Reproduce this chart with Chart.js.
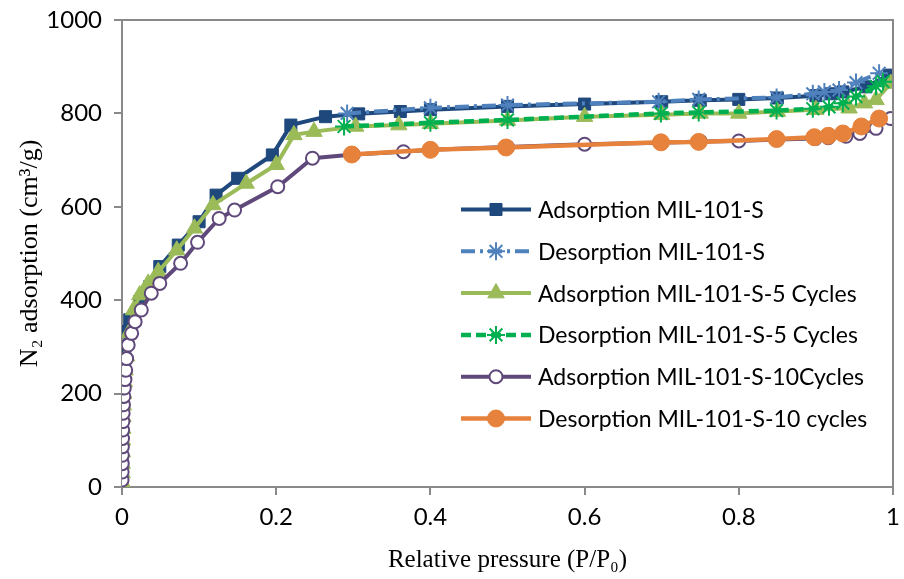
<!DOCTYPE html>
<html lang="en">
<head>
    <meta charset="UTF-8">
    <title>N2 adsorption isotherms MIL-101-S</title>
    <style>
        body { margin: 0; background: #fff; }
        canvas { display: block; }
    </style>
</head>
<body>
<canvas id="chartCanvas" width="904" height="579"></canvas>

<script src="https://cdn.jsdelivr.net/npm/chart.js"></script>
<script>
    // values (P/P0, cm3/g)
    const adsS_p = [0.0001, 0.0002, 0.0004, 0.0006, 0.0009, 0.0013, 0.0018, 0.0025, 0.0035, 0.005, 0.01, 0.023, 0.036, 0.049, 0.073, 0.1, 0.122, 0.15, 0.195, 0.219, 0.264, 0.307, 0.361, 0.4, 0.5, 0.6, 0.7, 0.75, 0.8, 0.85, 0.9, 0.92, 0.935, 0.965, 0.995];
    const adsS_v = [20, 60, 100, 140, 175, 210, 240, 270, 300, 333, 358, 397, 429, 472, 518, 568, 625, 661, 711, 775, 793, 799, 804, 808, 815, 820, 825, 828, 830, 833, 838, 842, 846, 857, 882];

    const desS_p = [0.292, 0.4, 0.5, 0.696, 0.748, 0.849, 0.896, 0.911, 0.93, 0.952, 0.982];
    const desS_v = [800, 812, 818, 825, 830, 834, 842, 846, 850, 866, 886];

    const ads5_p = [0.0001, 0.0002, 0.0003, 0.0005, 0.0007, 0.001, 0.0013, 0.0017, 0.0022, 0.003, 0.004, 0.006, 0.009, 0.015, 0.023, 0.034, 0.047, 0.071, 0.094, 0.118, 0.161, 0.2, 0.223, 0.249, 0.303, 0.359, 0.4, 0.5, 0.6, 0.7, 0.75, 0.8, 0.85, 0.9, 0.943, 0.963, 0.978, 0.997];
    const ads5_v = [10, 30, 50, 75, 100, 125, 150, 175, 200, 225, 250, 280, 330, 379, 411, 436, 461, 507, 554, 604, 650, 690, 754, 761, 772, 775, 778, 785, 793, 797, 800, 800, 804, 808, 811, 822, 829, 864];

    const des5_p = [0.288, 0.4, 0.5, 0.699, 0.748, 0.849, 0.896, 0.917, 0.935, 0.952, 0.978, 0.987];
    const des5_v = [772, 780, 786, 800, 802, 806, 810, 814, 822, 836, 858, 868];

    const ads10_p = [0.0001, 0.0002, 0.0003, 0.0004, 0.0005, 0.0007, 0.0009, 0.0012, 0.0015, 0.0019, 0.0024, 0.003, 0.0038, 0.0048, 0.006, 0.008, 0.0125, 0.017, 0.025, 0.038, 0.049, 0.076, 0.098, 0.126, 0.146, 0.202, 0.247, 0.3, 0.365, 0.4, 0.5, 0.6, 0.7, 0.75, 0.8, 0.85, 0.899, 0.916, 0.939, 0.957, 0.978, 0.997];
    const ads10_v = [15, 32, 50, 68, 86, 104, 122, 140, 158, 176, 194, 212, 230, 250, 275, 304, 329, 354, 379, 415, 436, 479, 524, 575, 593, 643, 704, 712, 718, 722, 728, 734, 737, 740, 741, 744, 746, 748, 751, 757, 768, 789];

    const des10_p = [0.298, 0.4, 0.498, 0.699, 0.748, 0.849, 0.898, 0.916, 0.935, 0.959, 0.982];
    const des10_v = [712, 722, 727, 738, 739, 745, 749, 752, 757, 772, 789];

    const seriesNames = [
        'Adsorption MIL-101-S',
        'Desorption MIL-101-S',
        'Adsorption MIL-101-S-5 Cycles',
        'Desorption MIL-101-S-5 Cycles',
        'Adsorption MIL-101-S-10Cycles',
        'Desorption MIL-101-S-10 cycles'
    ];
    const xTicks = [0, 0.2, 0.4, 0.6, 0.8, 1];
    const yTicks = [0, 200, 400, 600, 800, 1000];

    const axisGrey = '#898989';

    function toPoints(px, vy) {
        return px.map((p, i) => ({x: p, y: vy[i]}));
    }

    const styles = [
        {color: '#1F497D', fill: '#1F497D', style: 'rect', radius: 8.5, width: 4, dash: [], pw: 1},
        {color: '#4F81BD', fill: '#4F81BD', style: 'star', radius: 9, width: 4, dash: [14, 5, 3, 5], pw: 2},
        {color: '#9BBB59', fill: '#9BBB59', style: 'triangle', radius: 9.5, width: 4, dash: [], pw: 1},
        {color: '#00B050', fill: '#00B050', style: 'star', radius: 9, width: 4.5, dash: [10, 5], pw: 2},
        {color: '#5F497A', fill: '#FFFFFF', style: 'circle', radius: 6.5, width: 4, dash: [], pw: 2},
        {color: '#E6823B', fill: '#E6823B', style: 'circle', radius: 8.5, width: 4.5, dash: [], pw: 1}
    ];
    const seriesData = [
        toPoints(adsS_p, adsS_v),
        toPoints(desS_p, desS_v),
        toPoints(ads5_p, ads5_v),
        toPoints(des5_p, des5_v),
        toPoints(ads10_p, ads10_v),
        toPoints(des10_p, des10_v)
    ];

    const datasets = seriesNames.map((name, i) => ({
        label: name,
        data: seriesData[i],
        borderColor: styles[i].color,
        backgroundColor: styles[i].fill,
        borderWidth: styles[i].width,
        borderDash: styles[i].dash,
        pointStyle: styles[i].style,
        pointRadius: styles[i].radius,
        pointBorderWidth: styles[i].pw,
        pointBorderColor: styles[i].color,
        pointBackgroundColor: styles[i].fill,
        tension: 0,
        order: seriesNames.length - 1 - i   // later series on top, like the original
    }));

    // draw one legend marker by hand
    function drawMarker(ctx, s, x, y) {
        const r = s.radius;
        ctx.save();
        ctx.setLineDash([]);
        ctx.lineWidth = s.pw;
        ctx.strokeStyle = s.color;
        ctx.fillStyle = s.fill;
        ctx.beginPath();
        if (s.style === 'rect') {
            const h = r * Math.SQRT1_2;
            ctx.rect(x - h, y - h, 2 * h, 2 * h);
            ctx.fill();
            ctx.stroke();
        } else if (s.style === 'triangle') {
            for (let k = 0; k < 3; k++) {
                const a = k * 2 * Math.PI / 3;
                const px = x + Math.sin(a) * r, py = y - Math.cos(a) * r;
                if (k === 0) ctx.moveTo(px, py); else ctx.lineTo(px, py);
            }
            ctx.closePath();
            ctx.fill();
            ctx.stroke();
        } else if (s.style === 'circle') {
            ctx.arc(x, y, r, 0, Math.PI * 2);
            ctx.fill();
            ctx.stroke();
        } else if (s.style === 'star') {
            for (let k = 0; k < 4; k++) {
                const a = k * Math.PI / 4;
                ctx.moveTo(x - Math.cos(a) * r, y - Math.sin(a) * r);
                ctx.lineTo(x + Math.cos(a) * r, y + Math.sin(a) * r);
            }
            ctx.stroke();
        }
        ctx.restore();
    }

    const frameAndLegend = {
        id: 'frameAndLegend',
        afterDraw(chart) {
            const ctx = chart.ctx;
            const a = chart.chartArea;
            // top and right edges of the plot frame
            ctx.save();
            ctx.strokeStyle = axisGrey;
            ctx.lineWidth = 2;
            ctx.beginPath();
            ctx.moveTo(a.left, a.top);
            ctx.lineTo(a.right, a.top);
            ctx.lineTo(a.right, a.bottom);
            ctx.stroke();
            ctx.restore();

            // legend inside the plot, lower right
            const x0 = a.left + 339;
            const lineLen = 70;
            const y0 = a.top + 189.5;
            const step = 41.8;
            ctx.save();
            ctx.font = '23px Lato';
            ctx.textBaseline = 'middle';
            ctx.textAlign = 'left';
            seriesNames.forEach((name, i) => {
                const s = styles[i];
                const y = y0 + i * step;
                ctx.save();
                ctx.strokeStyle = s.color;
                ctx.lineWidth = s.width;
                ctx.setLineDash(s.dash);
                ctx.beginPath();
                ctx.moveTo(x0, y);
                ctx.lineTo(x0 + lineLen, y);
                ctx.stroke();
                ctx.restore();
                drawMarker(ctx, s, x0 + lineLen / 2, y);
                ctx.fillStyle = '#000';
                ctx.fillText(name, x0 + lineLen + 7, y + 1);
            });
            ctx.restore();
        }
    };

    const ctx = document.getElementById('chartCanvas').getContext('2d');
    new Chart(ctx, {
        type: 'line',
        data: {datasets: datasets},
        options: {
            responsive: false,
            animation: false,
            layout: {padding: {top: 20, right: 4, left: 0, bottom: 0}},
            plugins: {
                legend: {display: false},
                tooltip: {enabled: false}
            },
            scales: {
                x: {
                    type: 'linear',
                    min: 0,
                    max: 1,
                    afterFit(scale) {
                        scale.height = 92;
                        // no extra room for the half-width of the end labels
                        scale.paddingLeft = 0;
                        scale.paddingRight = 0;
                    },
                    afterBuildTicks(scale) { scale.ticks = xTicks.map(v => ({value: v})); },
                    border: {display: true, color: axisGrey, width: 2},
                    grid: {display: true, drawOnChartArea: false, drawTicks: true, tickLength: 8, color: axisGrey, lineWidth: 2},
                    ticks: {
                        color: '#000',
                        padding: 8,
                        maxRotation: 0,
                        font: {family: 'Lato', size: 24},
                        callback: v => String(v)
                    },
                    title: {
                        display: true,
                        text: 'Relative pressure (P/P₀)',
                        color: '#000',
                        font: {family: 'Liberation Serif', size: 25, lineHeight: 1.2},
                        padding: {top: 0, bottom: 4}
                    }
                },
                y: {
                    type: 'linear',
                    min: 0,
                    max: 1000,
                    afterFit(scale) {
                        scale.width = 122;
                        scale.paddingTop = 0;
                        scale.paddingBottom = 0;
                    },
                    afterBuildTicks(scale) { scale.ticks = yTicks.map(v => ({value: v})); },
                    border: {display: true, color: axisGrey, width: 2},
                    grid: {display: true, drawOnChartArea: false, drawTicks: true, tickLength: 8, color: axisGrey, lineWidth: 2},
                    ticks: {
                        color: '#000',
                        padding: 12,
                        font: {family: 'Lato', size: 24},
                        callback: v => String(v)
                    },
                    title: {
                        display: true,
                        text: 'N₂ adsorption (cm³/g)',
                        color: '#000',
                        font: {family: 'Liberation Serif', size: 26, lineHeight: 1.2},
                        padding: {top: 15, bottom: 0}
                    }
                }
            }
        },
        plugins: [frameAndLegend]
    });
</script>

</body>
</html>
